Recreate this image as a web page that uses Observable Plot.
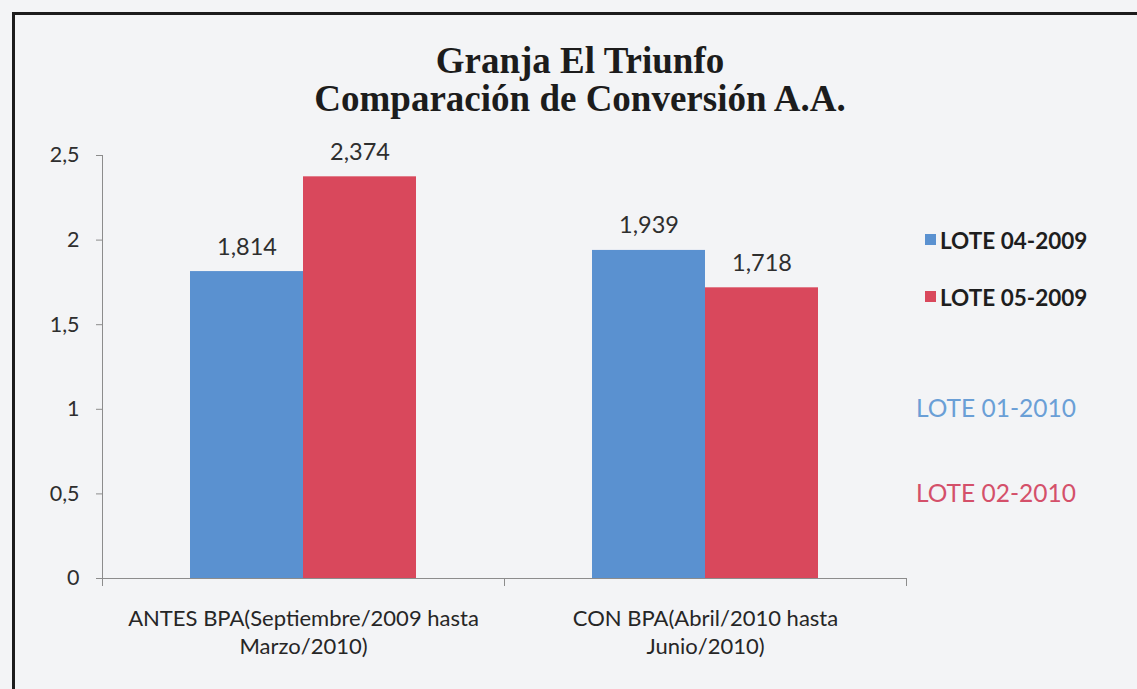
<!DOCTYPE html>
<html>
<head>
<meta charset="utf-8">
<script src="https://cdn.jsdelivr.net/npm/d3@7"></script>
<script src="https://cdn.jsdelivr.net/npm/@observablehq/plot@0.6"></script>
<style>
html, body { margin: 0; padding: 0; background: #f3f4f6; }
#wrap { position: relative; width: 1137px; height: 689px; overflow: hidden; background: #f3f4f6; }
#border { position: absolute; left: 12px; top: 12px; width: 1300px; height: 900px; border-left: 3px solid #1c1c1c; border-top: 3px solid #1c1c1c; }
#chart { position: absolute; left: 0; top: 0; }
#title { position: absolute; left: 0; width: 1160px; top: 42px; text-align: center; font: bold 37px "Liberation Serif", "DejaVu Serif", serif; line-height: 38px; color: #1c1c1c; }
.leg { position: absolute; font-family: Lato, "Open Sans", sans-serif; white-space: nowrap; }
.leg.top { font-weight: bold; font-size: 22.5px; color: #1e1e1e; }
.sw { position: absolute; width: 11px; height: 11px; }
.leg.low { font-size: 24.5px; }
</style>
</head>
<body>
<div id="wrap">
  <div id="border"></div>
  <div id="chart"></div>
  <div id="title">Granja El Triunfo<br>Comparación de Conversión A.A.</div>
  <div id="legend"></div>
</div>
<script>
// ---- data ----
const categories = [
  "ANTES BPA(Septiembre/2009 hasta\nMarzo/2010)",
  "CON BPA(Abril/2010 hasta\nJunio/2010)"
];
const series = ["LOTE 04-2009", "LOTE 05-2009"];
const lote04_2009 = [1.814, 1.939];
const lote05_2009 = [2.374, 1.718];
const extraLabels = ["LOTE 01-2010", "LOTE 02-2010"];
const yTicks = [0, 0.5, 1, 1.5, 2, 2.5];
const seriesColors = ["#5a91d0", "#d9485c"];
const extraColors = ["#6a9fd6", "#d4506a"];

const seriesValues = [lote04_2009, lote05_2009];
const rows = categories.flatMap((cat, i) =>
  series.map((s, j) => ({cat, serie: s, value: seriesValues[j][i]}))
);
const comma = v => String(v).replace(".", ",");
const fmt3 = v => v.toFixed(3).replace(".", ",");

const W = 1137, H = 689;
const mTop = 155, mBottom = 111, mLeft = 101, mRight = 231;
const innerH = H - mTop - mBottom;
const axisColor = "#8c8c8c";

const chart = Plot.plot({
  width: W,
  height: H,
  marginTop: mTop,
  marginBottom: mBottom,
  marginLeft: mLeft,
  marginRight: mRight,
  style: {background: "transparent", fontFamily: "Lato, 'Open Sans', sans-serif", color: "#2a2a2a"},
  fx: {domain: categories, padding: 0, label: null},
  x: {domain: series, paddingInner: 0, paddingOuter: 0.775, axis: null},
  y: {domain: [0, 2.5], axis: null},
  color: {domain: series, range: seriesColors},
  marks: [
    Plot.barY(rows, {fx: "cat", x: "serie", y: "value", fill: "serie"}),
    Plot.text(rows, {fx: "cat", x: "serie", y: "value", text: d => fmt3(d.value),
      lineAnchor: "bottom", dy: -17, fontSize: 23.5, fill: "#2e2e2e"}),
    Plot.ruleY([0], {stroke: axisColor}),
    Plot.frame({anchor: "left", facetAnchor: "left", insetBottom: -7, stroke: axisColor}),
    Plot.frame({anchor: "left", facetAnchor: "right", insetTop: innerH, insetBottom: -7, stroke: axisColor}),
    Plot.frame({anchor: "right", facetAnchor: "right", insetTop: innerH, insetBottom: -7, stroke: axisColor}),
    Plot.axisY({ticks: yTicks, tickSize: 6, tickPadding: 17, tickFormat: comma, fontSize: 21.5,
      stroke: axisColor, fill: "#2e2e2e", label: null}),
    Plot.axisFx({anchor: "bottom", tickSize: 0, tickPadding: 27, fontSize: 22, lineHeight: 1.3,
      fill: "#262626", label: null})
  ]
});
document.getElementById("chart").appendChild(chart);

// ---- legend (HTML, built from the arrays) ----
const legend = document.getElementById("legend");
const topY = [227, 284];
series.forEach((s, i) => {
  const sw = document.createElement("div");
  sw.className = "sw";
  sw.style.left = "925px";
  sw.style.top = (topY[i] + 7) + "px";
  sw.style.background = seriesColors[i];
  legend.appendChild(sw);
  const t = document.createElement("div");
  t.className = "leg top";
  t.style.left = "940px";
  t.style.top = topY[i] + "px";
  t.textContent = s;
  legend.appendChild(t);
});
const lowY = [393, 478];
extraLabels.forEach((s, i) => {
  const t = document.createElement("div");
  t.className = "leg low";
  t.style.left = "916px";
  t.style.top = lowY[i] + "px";
  t.style.color = extraColors[i];
  t.textContent = s;
  legend.appendChild(t);
});
</script>
</body>
</html>
